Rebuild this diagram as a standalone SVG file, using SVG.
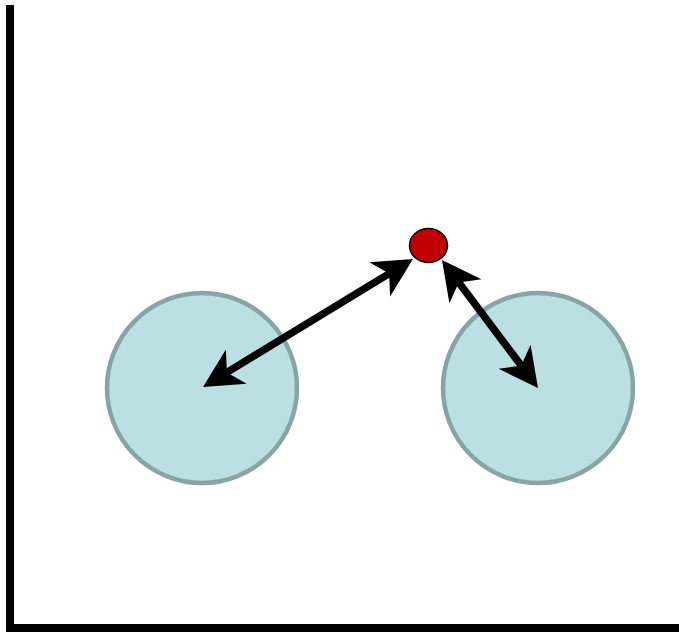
<svg xmlns="http://www.w3.org/2000/svg" width="679" height="632" viewBox="0 0 679 632">
<style>
.axis{stroke:#000;stroke-width:8;fill:none}
.big{fill:#bbdfe2;stroke:#88a4a6;stroke-width:4.5}
.dot{fill:#c00000;stroke:#000;stroke-width:1.5}
.arr{stroke:#000;stroke-width:7.5;fill:none;marker-start:url(#head);marker-end:url(#head)}
</style>
<defs>
<marker id="head" markerUnits="userSpaceOnUse" viewBox="-12 -21 42 42" markerWidth="42" markerHeight="42" refX="0" refY="0" orient="auto-start-reverse">
<path d="M28,0 L-11,-20 L0,0 L-11,20 Z" fill="#000"/>
</marker>
</defs>
<rect width="679" height="632" fill="#fff"/>
<g id="axes">
<path class="axis" d="M10,5 V628 H679"/>
</g>
<g id="circle-left"><circle class="big" cx="202" cy="388" r="95"/></g>
<g id="circle-right"><circle class="big" cx="538" cy="388" r="95"/></g>
<g id="connectors">
<path class="arr" d="M389.1,273.6 L226.9,372.4"/>
<path class="arr" d="M458.8,282.4 L521.2,365.6"/>
</g>
<g id="point"><ellipse class="dot" cx="428.5" cy="245.5" rx="19" ry="17"/></g>
</svg>
